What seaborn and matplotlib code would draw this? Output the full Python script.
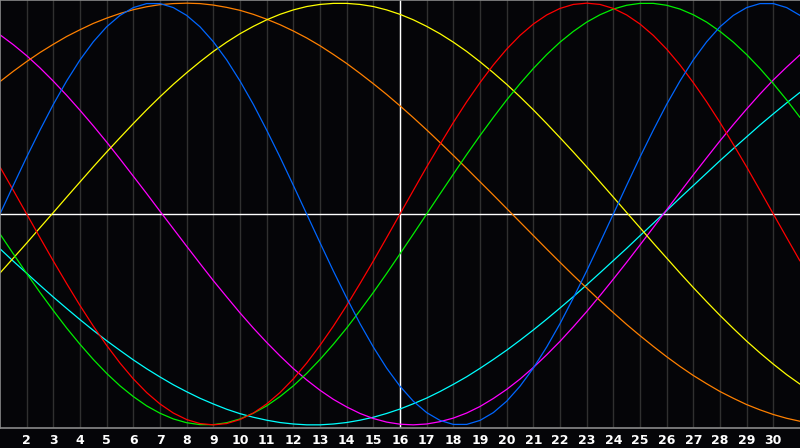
import matplotlib
matplotlib.use("Agg")
import matplotlib.pyplot as plt
import pandas as pd
import seaborn as sns

# Half-day positions along the chart (day 1 .. day 31), today is day 16
days = [h / 2 for h in range(2, 63)]
today = 16
tick_days = list(range(2, 31))

# Cycle values (-1 .. 1), one per half day
physical = [0.0, 0.136, 0.270, 0.398, 0.520, 0.631, 0.731, 0.817, 0.888, 0.942,
            0.979, 0.998, 0.998, 0.979, 0.942, 0.888, 0.817, 0.731, 0.631, 0.520,
            0.398, 0.270, 0.136, 0.0, -0.136, -0.270, -0.398, -0.520, -0.631, -0.731,
            -0.817, -0.888, -0.942, -0.979, -0.998, -0.998, -0.979, -0.942, -0.888, -0.817,
            -0.731, -0.631, -0.520, -0.398, -0.270, -0.136, 0.0, 0.136, 0.270, 0.398,
            0.520, 0.631, 0.731, 0.817, 0.888, 0.942, 0.979, 0.998, 0.998, 0.979, 0.942]
emotional = [0.223, 0.112, 0.0, -0.112, -0.223, -0.330, -0.434, -0.532, -0.623, -0.707,
             -0.782, -0.847, -0.901, -0.944, -0.975, -0.994, -1.0, -0.994, -0.975, -0.944,
             -0.901, -0.847, -0.782, -0.707, -0.623, -0.532, -0.434, -0.330, -0.223, -0.112,
             0.0, 0.112, 0.223, 0.330, 0.434, 0.532, 0.623, 0.707, 0.782, 0.847,
             0.901, 0.944, 0.975, 0.994, 1.0, 0.994, 0.975, 0.944, 0.901, 0.847,
             0.782, 0.707, 0.623, 0.532, 0.434, 0.330, 0.223, 0.112, 0.0, -0.112, -0.223]
intellectual = [-0.095, -0.189, -0.282, -0.372, -0.458, -0.541, -0.618, -0.690, -0.756, -0.815,
                -0.866, -0.910, -0.945, -0.972, -0.990, -0.999, -0.999, -0.990, -0.972, -0.945,
                -0.910, -0.866, -0.815, -0.756, -0.690, -0.618, -0.541, -0.458, -0.372, -0.282,
                -0.189, -0.095, 0.0, 0.095, 0.189, 0.282, 0.372, 0.458, 0.541, 0.618,
                0.690, 0.756, 0.815, 0.866, 0.910, 0.945, 0.972, 0.990, 0.999, 0.999,
                0.990, 0.972, 0.945, 0.910, 0.866, 0.815, 0.756, 0.690, 0.618, 0.541, 0.458]
intuitive = [0.850, 0.803, 0.751, 0.693, 0.630, 0.563, 0.492, 0.418, 0.341, 0.261,
             0.179, 0.097, 0.013, -0.070, -0.153, -0.235, -0.316, -0.393, -0.469, -0.541,
             -0.609, -0.673, -0.733, -0.787, -0.836, -0.879, -0.915, -0.946, -0.970, -0.987,
             -0.997, -1.000, -0.996, -0.985, -0.968, -0.944, -0.913, -0.875, -0.832, -0.783,
             -0.728, -0.668, -0.604, -0.535, -0.463, -0.387, -0.309, -0.229, -0.147, -0.064,
             0.020, 0.103, 0.186, 0.267, 0.347, 0.424, 0.498, 0.569, 0.636, 0.697, 0.755]
aesthetic = [-0.280, -0.209, -0.138, -0.065, 0.007, 0.080, 0.152, 0.224, 0.294, 0.362,
             0.429, 0.494, 0.556, 0.615, 0.670, 0.722, 0.771, 0.815, 0.855, 0.890,
             0.921, 0.947, 0.968, 0.984, 0.994, 0.999, 0.999, 0.994, 0.984, 0.968,
             0.947, 0.921, 0.890, 0.855, 0.815, 0.771, 0.722, 0.670, 0.615, 0.556,
             0.494, 0.429, 0.362, 0.294, 0.224, 0.152, 0.080, 0.007, -0.065, -0.138,
             -0.209, -0.280, -0.349, -0.416, -0.481, -0.543, -0.603, -0.659, -0.712, -0.762, -0.807]
awareness = [0.628, 0.677, 0.723, 0.766, 0.805, 0.842, 0.874, 0.904, 0.929, 0.951,
             0.969, 0.983, 0.993, 0.998, 1.000, 0.998, 0.991, 0.980, 0.966, 0.947,
             0.924, 0.898, 0.868, 0.835, 0.798, 0.757, 0.714, 0.667, 0.618, 0.567,
             0.513, 0.457, 0.399, 0.339, 0.278, 0.216, 0.153, 0.090, 0.026, -0.038,
             -0.102, -0.166, -0.229, -0.291, -0.351, -0.411, -0.468, -0.524, -0.577, -0.628,
             -0.677, -0.723, -0.766, -0.805, -0.842, -0.874, -0.904, -0.929, -0.951, -0.969, -0.983]
spiritual = [-0.165, -0.224, -0.281, -0.338, -0.394, -0.448, -0.501, -0.552, -0.601, -0.647,
             -0.692, -0.734, -0.773, -0.810, -0.843, -0.874, -0.901, -0.926, -0.947, -0.964,
             -0.978, -0.989, -0.996, -1.000, -1.000, -0.996, -0.989, -0.978, -0.964, -0.946,
             -0.925, -0.900, -0.873, -0.842, -0.808, -0.772, -0.732, -0.690, -0.646, -0.599,
             -0.550, -0.499, -0.446, -0.392, -0.336, -0.279, -0.221, -0.163, -0.103, -0.044,
             0.016, 0.076, 0.135, 0.194, 0.253, 0.310, 0.366, 0.422, 0.475, 0.527, 0.577]

cycles = {
    "spiritual": spiritual,
    "intuitive": intuitive,
    "awareness": awareness,
    "aesthetic": aesthetic,
    "intellectual": intellectual,
    "emotional": emotional,
    "physical": physical,
}
colors = {
    "physical": "#0066ff",
    "emotional": "#ff0000",
    "intellectual": "#00ee00",
    "intuitive": "#ff00ff",
    "aesthetic": "#ffff00",
    "awareness": "#ff8000",
    "spiritual": "#00ffff",
}

rows = []
for name, values in cycles.items():
    for d, v in zip(days, values):
        rows.append({"day": d, "value": v, "cycle": name})
df = pd.DataFrame(rows)

sns.set_style("dark")
bg = "#050508"

fig = plt.figure(figsize=(8, 4.48), dpi=100, facecolor=bg)
ax = fig.add_axes([0, 20 / 448, 1, 428 / 448])
ax.set_facecolor(bg)

# vertical day grid
for d in tick_days:
    ax.axvline(d, color="#303030", lw=1.0, zorder=0)

# zero line and today marker
ax.axhline(0, color="white", lw=1.0, zorder=1)
ax.axvline(today, color="white", lw=1.0, zorder=1)

sns.lineplot(data=df, x="day", y="value", hue="cycle", palette=colors,
             hue_order=list(cycles.keys()), legend=False, lw=0.9, ax=ax, zorder=2)

ax.set_xlim(1, 31)
ax.set_ylim(-1.015, 1.015)
ax.set_xticks(tick_days)
ax.set_xticklabels([str(d) for d in tick_days], color="white",
                   fontweight="bold", fontsize=9, family="DejaVu Sans")
ax.tick_params(axis="x", length=0, pad=4)
ax.set_yticks([])
ax.set_xlabel("")
ax.set_ylabel("")
ax.grid(False)

for side in ["top", "left", "bottom"]:
    ax.spines[side].set_visible(True)
    ax.spines[side].set_color("#8a8a8a")
    ax.spines[side].set_linewidth(1.2)
ax.spines["right"].set_visible(False)

plt.savefig("out.png", dpi=100, facecolor=bg)
plt.close()
